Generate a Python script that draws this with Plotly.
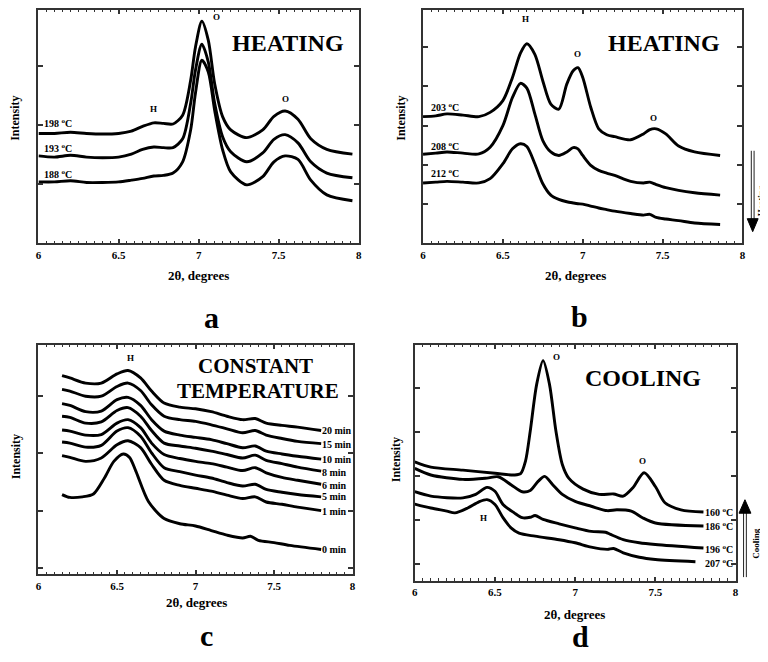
import plotly.graph_objects as go

# ---------------- DATA ----------------
# Panel a (HEATING)
xa = [6.0, 6.1, 6.2, 6.3, 6.4, 6.5, 6.58, 6.65, 6.72, 6.78, 6.84, 6.9, 6.95, 6.98, 7.02,
      7.06, 7.1, 7.15, 7.2, 7.3, 7.4, 7.47, 7.54, 7.62, 7.7, 7.8, 7.96]
a_198 = [1.86, 1.86, 1.88, 1.86, 1.85, 1.86, 1.90, 1.98, 2.04, 2.03, 2.02, 2.17, 2.76, 3.32, 3.76,
         3.44, 2.70, 2.14, 1.92, 1.79, 1.92, 2.15, 2.24, 2.10, 1.77, 1.59, 1.51]
a_193 = [1.48, 1.46, 1.49, 1.46, 1.45, 1.46, 1.51, 1.59, 1.63, 1.62, 1.62, 1.77, 2.37, 2.93, 3.37,
         3.07, 2.37, 1.80, 1.55, 1.38, 1.53, 1.76, 1.84, 1.70, 1.38, 1.19, 1.11]
a_188 = [1.04, 1.04, 1.06, 1.03, 1.03, 1.04, 1.07, 1.10, 1.14, 1.15, 1.19, 1.38, 1.92, 2.54, 3.10,
         2.90, 2.25, 1.58, 1.21, 0.99, 1.13, 1.38, 1.48, 1.42, 1.07, 0.82, 0.72]
a_labels = ["198", "193", "188"]
a_label_y = [2.04, 1.62, 1.18]

# Panel b (HEATING)
xb = [6.0, 6.08, 6.15, 6.25, 6.35, 6.42, 6.5, 6.56, 6.61, 6.65, 6.7, 6.75, 6.8, 6.85, 6.9,
      6.94, 6.97, 7.0, 7.05, 7.1, 7.15, 7.2, 7.3, 7.38, 7.42, 7.46, 7.52, 7.6, 7.7, 7.86]
b_203 = [3.23, 3.25, 3.30, 3.27, 3.23, 3.34, 3.64, 4.23, 4.85, 5.09, 4.82, 4.14, 3.55, 3.42, 4.06,
         4.40, 4.48, 4.23, 3.47, 2.92, 2.77, 2.72, 2.64, 2.79, 2.90, 2.92, 2.79, 2.48, 2.33, 2.24]
b_208 = [2.27, 2.30, 2.33, 2.30, 2.28, 2.45, 3.00, 3.72, 4.08, 3.96, 3.30, 2.62, 2.33, 2.24, 2.33,
         2.44, 2.41, 2.24, 1.99, 1.86, 1.79, 1.73, 1.58, 1.54, 1.56, 1.50, 1.42, 1.35, 1.29, 1.23]
b_212 = [1.54, 1.56, 1.58, 1.56, 1.54, 1.65, 2.03, 2.41, 2.54, 2.47, 2.03, 1.52, 1.23, 1.12, 1.06,
         1.03, 1.01, 1.00, 0.95, 0.90, 0.86, 0.82, 0.76, 0.72, 0.74, 0.66, 0.62, 0.58, 0.52, 0.48]
b_labels = ["203", "208", "212"]
b_label_y = [3.48, 2.49, 1.79]

# Panel c (CONSTANT TEMPERATURE)
xc = [6.15, 6.2, 6.3, 6.4, 6.5, 6.57, 6.65, 6.72, 6.8, 6.9, 7.0, 7.1, 7.2, 7.3, 7.38, 7.45, 7.55, 7.65, 7.8]
c_20 = [3.36, 3.32, 3.23, 3.23, 3.39, 3.45, 3.32, 3.09, 2.88, 2.81, 2.78, 2.73, 2.65, 2.59, 2.61, 2.53, 2.49, 2.46, 2.40]
c_15 = [3.12, 3.09, 3.00, 3.00, 3.17, 3.23, 3.10, 2.85, 2.65, 2.59, 2.56, 2.50, 2.43, 2.36, 2.40, 2.32, 2.26, 2.21, 2.17]
c_10 = [2.87, 2.84, 2.73, 2.74, 2.94, 2.98, 2.84, 2.59, 2.39, 2.32, 2.28, 2.24, 2.17, 2.10, 2.13, 2.04, 1.99, 1.95, 1.90]
c_8 = [2.65, 2.63, 2.53, 2.55, 2.75, 2.80, 2.65, 2.40, 2.18, 2.13, 2.09, 2.04, 1.98, 1.92, 1.97, 1.88, 1.82, 1.76, 1.69]
c_6 = [2.41, 2.39, 2.32, 2.33, 2.53, 2.59, 2.45, 2.18, 1.98, 1.91, 1.86, 1.82, 1.76, 1.70, 1.75, 1.66, 1.58, 1.53, 1.46]
c_5 = [2.20, 2.18, 2.11, 2.14, 2.39, 2.45, 2.30, 2.01, 1.75, 1.68, 1.62, 1.57, 1.49, 1.43, 1.46, 1.37, 1.32, 1.28, 1.24]
c_1 = [1.96, 1.93, 1.86, 1.92, 2.15, 2.22, 2.10, 1.81, 1.53, 1.44, 1.39, 1.34, 1.27, 1.21, 1.24, 1.15, 1.11, 1.06, 1.00]
xc0 = [6.15, 6.2, 6.28, 6.35, 6.42, 6.48, 6.54, 6.58, 6.62, 6.7, 6.8, 6.9, 7.0, 7.1, 7.2, 7.3, 7.35, 7.4, 7.5, 7.6, 7.8]
c_0 = [1.28, 1.23, 1.24, 1.29, 1.57, 1.86, 1.99, 1.93, 1.69, 1.16, 0.86, 0.77, 0.73, 0.65, 0.57, 0.52, 0.55, 0.48, 0.44, 0.39, 0.32]
c_labels = ["20 min", "15 min", "10 min", "8 min", "6 min", "5 min", "1 min", "0 min"]
c_label_y = [2.40, 2.155, 1.89, 1.67, 1.44, 1.25, 0.99, 0.32]

# Panel d (COOLING)
xd_160 = [6.0, 6.1, 6.3, 6.5, 6.62, 6.66, 6.69, 6.72, 6.76, 6.8, 6.84, 6.88, 6.92, 6.96, 7.05, 7.15,
          7.24, 7.3, 7.36, 7.43, 7.5, 7.56, 7.66, 7.8]
d_160 = [2.32, 2.20, 2.13, 2.06, 2.02, 2.05, 2.33, 3.02, 4.08, 4.62, 4.08, 3.02, 2.26, 1.95, 1.70, 1.58,
         1.59, 1.54, 1.73, 2.07, 1.76, 1.39, 1.23, 1.18]
xd_186 = [6.0, 6.1, 6.3, 6.45, 6.52, 6.6, 6.67, 6.72, 6.77, 6.81, 6.86, 6.92, 7.0, 7.1, 7.2, 7.26, 7.35, 7.42, 7.5, 7.8]
d_186 = [2.17, 2.02, 1.92, 1.95, 1.98, 1.80, 1.64, 1.67, 1.88, 1.99, 1.80, 1.58, 1.42, 1.31, 1.21, 1.23, 1.20, 1.05, 0.93, 0.86]
xd_196 = [6.0, 6.1, 6.3, 6.38, 6.45, 6.5, 6.55, 6.62, 6.67, 6.72, 6.75, 6.8, 6.9, 7.0, 7.1, 7.19, 7.22, 7.3, 7.4, 7.5, 7.8]
d_196 = [1.64, 1.54, 1.50, 1.58, 1.74, 1.65, 1.35, 1.16, 1.05, 1.06, 1.10, 1.01, 0.91, 0.82, 0.74, 0.72, 0.67, 0.55, 0.48, 0.44, 0.36]
xd_207 = [6.0, 6.1, 6.2, 6.25, 6.33, 6.4, 6.45, 6.5, 6.55, 6.6, 6.65, 6.75, 6.9, 7.0, 7.1, 7.2, 7.24, 7.3, 7.4, 7.5, 7.75]
d_207 = [1.36, 1.27, 1.20, 1.16, 1.27, 1.41, 1.46, 1.35, 1.05, 0.82, 0.70, 0.63, 0.55, 0.48, 0.38, 0.33, 0.35, 0.25, 0.15, 0.10, 0.05]
d_labels = ["160", "186", "196", "207"]
d_label_y = [1.17, 0.86, 0.33, 0.01]

# ---------------- FIGURE ----------------
OFF = 8                      # default page margin before the plot div
W, H = 768 - OFF, 662 - 2 * OFF
SERIF = "Liberation Serif"

def clamp(v):
    return max(0.0, min(1.0, v))

def px_x(p):
    return (p - OFF) / W

def px_y(p):
    return 1 - (p - OFF) / H

fig = go.Figure()

def curve(x, y, xa_name, ya_name):
    fig.add_trace(go.Scatter(x=x, y=y, mode="lines", xaxis=xa_name, yaxis=ya_name,
                             line=dict(color="black", width=2.9, shape="spline", smoothing=0.8),
                             showlegend=False, hoverinfo="skip"))

for yv in (a_198, a_193, a_188):
    curve(xa, yv, "x", "y")
for yv in (b_203, b_208, b_212):
    curve(xb, yv, "x2", "y2")
for yv in (c_20, c_15, c_10, c_8, c_6, c_5, c_1):
    curve(xc, yv, "x3", "y3")
curve(xc0, c_0, "x3", "y3")
curve(xd_160, d_160, "x4", "y4")
curve(xd_186, d_186, "x4", "y4")
curve(xd_196, d_196, "x4", "y4")
curve(xd_207, d_207, "x4", "y4")

domains = {
    1: dict(x=[35.7, 358.6], y=[9, 242.7], yr=[0, 3.95], yt=[1, 2, 3]),
    2: dict(x=[423.3, 745.3], y=[9, 242.7], yr=[0, 5.95], yt=[1, 2, 3, 4, 5]),
    3: dict(x=[35.7, 352.3], y=[344.3, 574.3], yr=[-0.117, 3.90], yt=[0, 1, 2, 3]),
    4: dict(x=[415, 738.3], y=[344.3, 580.5], yr=[-0.38, 4.98], yt=[0, 1, 2, 3, 4]),
}

layout = dict(width=W, height=H, margin=dict(l=0, r=0, t=0, b=0),
              paper_bgcolor="white", plot_bgcolor="white", showlegend=False)
for i, d in domains.items():
    sx = "" if i == 1 else str(i)
    layout["xaxis" + sx] = dict(
        domain=[clamp(px_x(d["x"][0])), clamp(px_x(d["x"][1]))], anchor="y" + sx, range=[6, 8],
        dtick=0.5, tick0=6, ticks="inside", ticklen=4, tickwidth=1.5, tickcolor="#333",
        showline=True, linecolor="#333", linewidth=2, mirror="ticks", showgrid=False, zeroline=False,
        tickfont=dict(family=SERIF, size=11, color="black", weight="bold"),
        minor=dict(dtick=0.05, ticks="inside", ticklen=2.5, tickwidth=1.2, tickcolor="#333", showgrid=False),
        fixedrange=True)
    layout["yaxis" + sx] = dict(
        domain=[clamp(px_y(d["y"][1])), clamp(px_y(d["y"][0]))], anchor="x" + sx, range=d["yr"],
        tickvals=d["yt"], showticklabels=False, ticks="inside", ticklen=5, tickwidth=1.5,
        tickcolor="#333", showline=True, linecolor="#333", linewidth=2, mirror="ticks",
        showgrid=False, zeroline=False, fixedrange=True)
fig.update_layout(**layout)

ann = []

def txt(x, y, text, size, xref, yref, **kw):
    d = dict(x=x, y=y, xref=xref, yref=yref, text=text, showarrow=False,
             xanchor="center", yanchor="middle",
             font=dict(family=SERIF, size=size, color="black"))
    d.update(kw)
    ann.append(d)

# panel letters, axis titles, Intensity
for (cx, cy) in [(197, 275), (577, 275), (195, 602), (576, 614)]:
    txt(px_x(cx), px_y(cy), "<b>2θ, degrees</b>", 13, "paper", "paper")
for (cx, cy) in [(12, 117), (401, 117), (13, 456), (396, 459)]:
    txt(px_x(cx), px_y(cy), "<b>Intensity</b>", 12, "paper", "paper", textangle=-90)
for (lt, cx, cy) in [("a", 210, 317), ("b", 581, 316), ("d", 582, 636)]:
    txt(px_x(cx), px_y(cy), "<b>%s</b>" % lt, 30, "paper", "paper")
# "c" sits at the very bottom edge of the figure
txt(px_x(205), 0, "<b>c</b>", 30, "paper", "paper", yanchor="bottom")

# panel a
txt(7.56, 3.39, "<b>HEATING</b>", 24, "x", "y")
txt(6.72, 2.28, "<b>H</b>", 9, "x", "y")
txt(7.11, 3.83, "<b>O</b>", 9, "x", "y")
txt(7.54, 2.44, "<b>O</b>", 9, "x", "y")
for lab, yy in zip(a_labels, a_label_y):
    txt(6.025, yy, "<b>%s <sup>o</sup>C</b>" % lab, 10, "x", "y", xanchor="left")

# panel b
txt(7.51, 5.12, "<b>HEATING</b>", 24, "x2", "y2")
txt(6.64, 5.71, "<b>H</b>", 9, "x2", "y2")
txt(6.97, 4.82, "<b>O</b>", 9, "x2", "y2")
txt(7.44, 3.19, "<b>O</b>", 9, "x2", "y2")
for lab, yy in zip(b_labels, b_label_y):
    txt(6.035, yy, "<b>%s <sup>o</sup>C</b>" % lab, 10, "x2", "y2", xanchor="left")

# panel c
txt(7.385, 3.52, "<b>CONSTANT</b>", 21, "x3", "y3")
txt(7.40, 3.09, "<b>TEMPERATURE</b>", 21, "x3", "y3")
txt(6.585, 3.67, "<b>H</b>", 9, "x3", "y3")
for lab, yy in zip(c_labels, c_label_y):
    txt(7.795, yy, "<b>%s</b>" % lab, 10, "x3", "y3", xanchor="left")

# panel d
txt(7.42, 4.23, "<b>COOLING</b>", 24, "x4", "y4")
txt(6.885, 4.70, "<b>O</b>", 9, "x4", "y4")
txt(7.42, 2.33, "<b>O</b>", 9, "x4", "y4")
txt(6.43, 1.05, "<b>H</b>", 9, "x4", "y4")
for lab, yy in zip(d_labels, d_label_y):
    txt(7.80, yy, "<b>%s <sup>o</sup>C</b>" % lab, 10, "x4", "y4", xanchor="left")

# side arrow texts
txt(px_x(759.5), px_y(543), "<b>Cooling</b>", 9, "paper", "paper", textangle=-90)
txt(px_x(763.5), px_y(200), "<b>Heating</b>", 9, "paper", "paper", textangle=-90)

fig.update_layout(annotations=ann)

# arrows (double shaft + filled head)
def vline(xp, y0, y1):
    return dict(type="line", xref="paper", yref="paper", x0=px_x(xp), x1=px_x(xp),
                y0=px_y(y0), y1=px_y(y1), line=dict(color="#222", width=1))

def head(xc_, ybase, ytip, half):
    path = "M %f %f L %f %f L %f %f Z" % (px_x(xc_ - half), px_y(ybase), px_x(xc_ + half), px_y(ybase),
                                          px_x(xc_), px_y(ytip))
    return dict(type="path", xref="paper", yref="paper", path=path,
                fillcolor="black", line=dict(color="black", width=1))

shapes = [
    vline(754.2, 150, 222), vline(757.0, 150, 222), head(755.6, 218, 231, 5.5),
    vline(746.4, 510, 577), vline(749.2, 510, 577), head(747.8, 513, 499.5, 6),
]
fig.update_layout(shapes=shapes)

fig.write_html("out.html")
